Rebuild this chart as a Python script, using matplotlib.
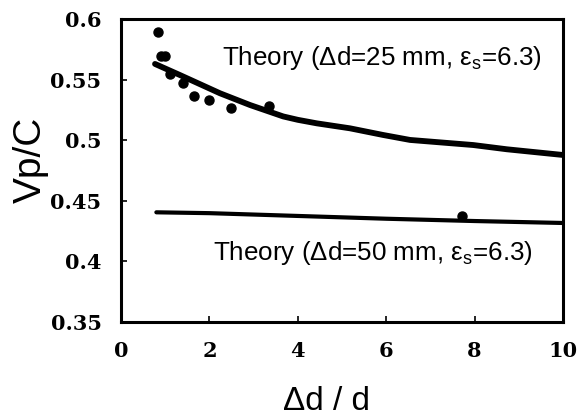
import matplotlib
matplotlib.use("Agg")
import matplotlib.pyplot as plt

# Data
theory25_x = [0.77, 1.33, 2.24, 2.92, 3.67, 4.0, 4.43, 5.18, 5.93, 6.54, 7.97, 8.73, 10.0]
theory25_y = [0.5629, 0.5538, 0.5387, 0.5290, 0.5196, 0.5168, 0.5139, 0.5098, 0.5043, 0.5002, 0.4960, 0.4925, 0.4878]
theory50_x = [0.8, 2.0, 4.0, 6.0, 8.0, 10.0]
theory50_y = [0.4405, 0.4398, 0.4375, 0.4352, 0.4333, 0.4317]
meas_x = [0.84, 0.9, 1.0, 1.11, 1.41, 1.66, 1.98, 2.49, 3.34, 7.71]
meas_y = [0.5895, 0.5695, 0.5695, 0.5545, 0.5468, 0.5365, 0.5333, 0.5268, 0.5280, 0.4375]
xticks = [0, 2, 4, 6, 8, 10]
yticks = [0.35, 0.4, 0.45, 0.5, 0.55, 0.6]
ytick_labels = ["0.35", "0.4", "0.45", "0.5", "0.55", "0.6"]
label25 = "Theory (Δd=25 mm, ε$_\\mathregular{s}$=6.3)"
label50 = "Theory (Δd=50 mm, ε$_\\mathregular{s}$=6.3)"

plt.rcParams['mathtext.fontset'] = 'custom'
plt.rcParams['mathtext.rm'] = 'Liberation Sans'

fig = plt.figure(figsize=(5.8, 4.19), dpi=100)
ax = fig.add_axes([0.2086, 0.2315, 0.7621, 0.7232])

ax.plot(theory25_x, theory25_y, color='black', lw=4.2, solid_capstyle='round', solid_joinstyle='round')
ax.plot(theory50_x, theory50_y, color='black', lw=3.0, solid_capstyle='round')
ax.plot(meas_x, meas_y, 'o', color='black', ms=6.5, clip_on=False)

ax.set_xlim(0, 10)
ax.set_ylim(0.35, 0.6)
ax.set_xticks(xticks)
ax.set_xticklabels([str(v) for v in xticks], family='DejaVu Serif', weight='heavy', fontsize=15)
ax.set_yticks(yticks)
ax.set_yticklabels(ytick_labels, family='DejaVu Serif', weight='heavy', fontsize=15)
ax.tick_params(axis='both', direction='in', length=4, width=1.2)
ax.tick_params(axis='x', pad=14)
ax.tick_params(axis='y', pad=14)
for sp in ax.spines.values():
    sp.set_linewidth(2.2)

ax.set_xlabel("Δd / d", family='Liberation Sans', fontsize=24, va='baseline')
ax.xaxis.set_label_coords(0.466, -0.29)
ax.set_ylabel("Vp/C", family='Liberation Sans', fontsize=28, va='center')
ax.yaxis.set_label_coords(-0.205, 0.535)

ax.text(2.29, 0.562, label25, family='Liberation Sans', fontsize=18.7, va='baseline', ha='left')
ax.text(2.09, 0.4012, label50, family='Liberation Sans', fontsize=18.7, va='baseline', ha='left')

fig.savefig("out.png", dpi=100)
